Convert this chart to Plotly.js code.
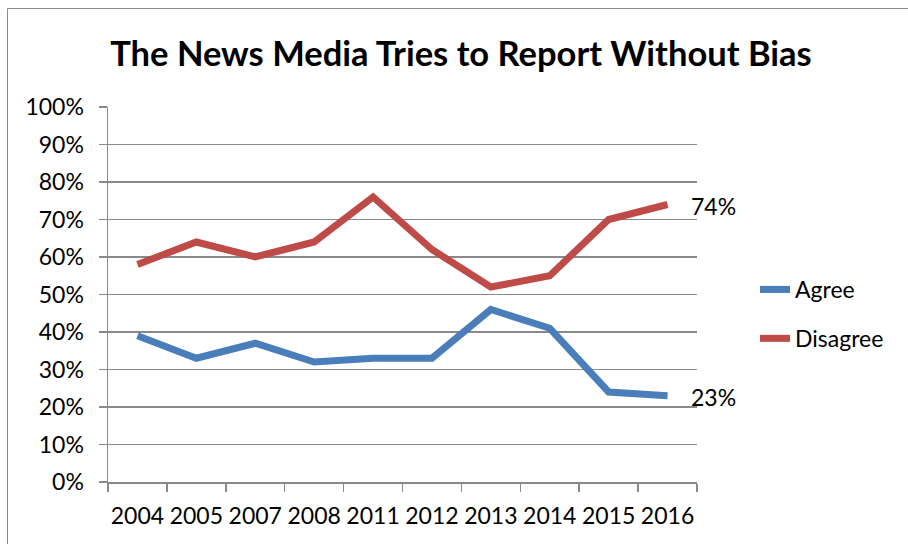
<!DOCTYPE html>
<html>
<head>
<meta charset="utf-8">
<script src="https://cdn.plot.ly/plotly-3.0.1.min.js"></script>
<style>
html,body{margin:0;padding:0;background:#fff;}
#chart{width:908px;height:544px;}
</style>
</head>
<body>
<div id="chart"></div>
<script>
const years = ["2004","2005","2007","2008","2011","2012","2013","2014","2015","2016"];
const agree = [0.39,0.33,0.37,0.32,0.33,0.33,0.46,0.41,0.24,0.23];
const disagree = [0.58,0.64,0.60,0.64,0.76,0.62,0.52,0.55,0.70,0.74];
const seriesNames = ["Agree","Disagree"];
const chartTitle = "The News Media Tries to Report Without Bias";

const FONT = "Lato, 'Open Sans', sans-serif";
const GRID = "#898989";
const FS = 23;

const traces = [
  {x: years, y: agree, name: seriesNames[0], type: "scatter", mode: "lines",
   line: {color: "#4A7EBB", width: 7}, legendgroup: "a", hoverinfo: "skip"},
  {x: years, y: disagree, name: seriesNames[1], type: "scatter", mode: "lines",
   line: {color: "#BE4B48", width: 7}, legendgroup: "d", hoverinfo: "skip"}
];

const last = years.length - 1;
const layout = {
  width: 908, height: 544,
  margin: {l: 108, r: 211, t: 107, b: 62},
  paper_bgcolor: "#fff", plot_bgcolor: "#fff",
  font: {family: FONT, size: FS, color: "#000"},
  title: {text: "<b>" + chartTitle + "</b>", font: {family: FONT, size: 34.5, color: "#000"},
          x: 461/908, xanchor: "center", y: 1 - 54/544, yanchor: "middle"},
  xaxis: {type: "category", categoryorder: "array", categoryarray: years,
          range: [-0.5, last + 0.5], tickson: "boundaries", ticks: "outside", ticklen: 8,
          tickangle: 0, automargin: false,
          tickcolor: GRID, tickwidth: 1.5, showline: true, linecolor: GRID, linewidth: 1.5,
          showgrid: false, zeroline: false, ticklabelstandoff: 13,
          tickfont: {family: FONT, size: FS, color: "#000"}},
  yaxis: {range: [0, 1], dtick: 0.1, tick0: 0, tickformat: ".0%", ticks: "outside", ticklen: 8,
          tickcolor: GRID, tickwidth: 1.5, showline: true, linecolor: GRID, linewidth: 1.5,
          showgrid: true, gridcolor: GRID, gridwidth: 1.5, zeroline: false, ticklabelstandoff: 10,
          tickfont: {family: FONT, size: FS, color: "#000"}},
  showlegend: true,
  legend: {x: (755 - 108)/589, xanchor: "left", y: (482 - 314)/375, yanchor: "middle",
           traceorder: "grouped", tracegroupgap: 16, font: {family: FONT, size: FS, color: "#000"},
           bgcolor: "rgba(0,0,0,0)", borderwidth: 0},
  annotations: [
    {x: last, y: disagree[last], xref: "x", yref: "y", text: Math.round(disagree[last]*100) + "%",
     showarrow: false, xanchor: "left", yanchor: "middle", xshift: 21, yshift: -1,
     font: {family: FONT, size: FS, color: "#000"}},
    {x: last, y: agree[last], xref: "x", yref: "y", text: Math.round(agree[last]*100) + "%",
     showarrow: false, xanchor: "left", yanchor: "middle", xshift: 21, yshift: -1,
     font: {family: FONT, size: FS, color: "#000"}}
  ],
  shapes: [
    {type: "rect", xref: "paper", yref: "paper", x0: (7.5 - 108)/589, x1: 2, y0: -1, y1: (482 - 8.5)/375,
     line: {color: "#8a8a8a", width: 1}, fillcolor: "rgba(0,0,0,0)", layer: "below"}
  ]
};

Plotly.newPlot("chart", traces, layout, {displayModeBar: false, staticPlot: true});
</script>
</body>
</html>
